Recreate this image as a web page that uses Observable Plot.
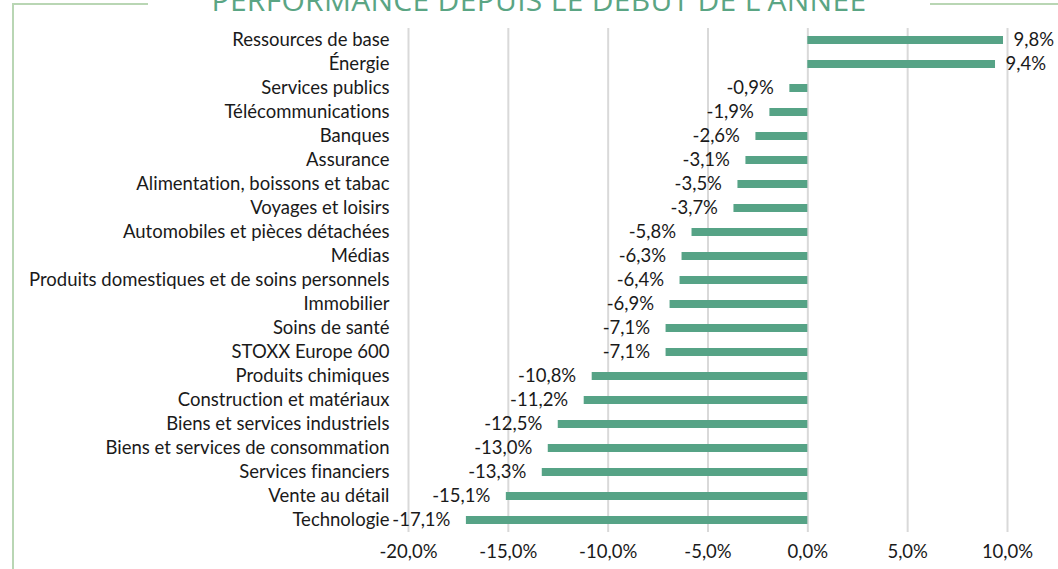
<!DOCTYPE html>
<html><head><meta charset="utf-8">
<script src="https://cdn.jsdelivr.net/npm/d3@7"></script>
<script src="https://cdn.jsdelivr.net/npm/@observablehq/plot@0.6"></script>
<style>
html,body{margin:0;padding:0;background:#fff;}
#wrap{position:relative;width:1058px;height:569px;overflow:hidden;}
#chart{position:absolute;left:0;top:0;}
#title{position:absolute;left:0;width:1078px;top:-15px;line-height:30px;text-align:center;font-family:"Open Sans",sans-serif;font-size:30px;color:#5aa584;letter-spacing:0.3px;white-space:nowrap;}
.bl{position:absolute;background:#b9d6b4;}
svg text{font-variant-ligatures:none;}
</style></head>
<body>
<div id="wrap">
  <div id="chart"></div>
  <div class="bl" style="left:12px;top:3px;width:2px;height:566px"></div>
  <div class="bl" style="left:12px;top:3px;width:136px;height:2px"></div>
  <div class="bl" style="left:930px;top:3px;width:128px;height:2px"></div>
  <div id="title">PERFORMANCE DEPUIS LE DÉBUT DE L'ANNÉE</div>
</div>
<script>
const categories = ["Ressources de base","Énergie","Services publics","Télécommunications","Banques","Assurance","Alimentation, boissons et tabac","Voyages et loisirs","Automobiles et pièces détachées","Médias","Produits domestiques et de soins personnels","Immobilier","Soins de santé","STOXX Europe 600","Produits chimiques","Construction et matériaux","Biens et services industriels","Biens et services de consommation","Services financiers","Vente au détail","Technologie"];
const values = [9.8,9.4,-0.9,-1.9,-2.6,-3.1,-3.5,-3.7,-5.8,-6.3,-6.4,-6.9,-7.1,-7.1,-10.8,-11.2,-12.5,-13.0,-13.3,-15.1,-17.1];
const xTicks = [-20,-15,-10,-5,0,5,10];

const fmt = v => v.toFixed(1).replace(".", ",") + "%";
const data = categories.map((c, i) => ({cat: c, val: values[i]}));

const chart = Plot.plot({
  width: 1058, height: 569,
  marginLeft: 408, marginRight: 51, marginTop: 28, marginBottom: 37,
  style: {fontFamily: "Lato, sans-serif", fontSize: "18.5px", color: "#1a1a1a", background: "transparent"},
  x: {domain: [-20, 10], ticks: xTicks, tickFormat: fmt, label: null},
  y: {domain: categories, paddingInner: 0.67, paddingOuter: 0.335, label: null},
  marks: [
    Plot.gridX(xTicks, {stroke: "#d9d9d9", strokeOpacity: 1, strokeWidth: 2}),
    Plot.axisX({ticks: xTicks, tickFormat: fmt, tickSize: 0, tickPadding: 12, fontSize: 18.5, label: null}),
    Plot.axisY({tickSize: 0, tickPadding: 19, fontSize: 18.5, label: null}),
    Plot.barX(data, {x: "val", y: "cat", fill: "#56a386"}),
    Plot.text(data.filter(d => d.val >= 0), {x: "val", y: "cat", text: d => fmt(d.val), textAnchor: "start", dx: 10, fontSize: 18.5, fill: "#1a1a1a"}),
    Plot.text(data.filter(d => d.val < 0), {x: "val", y: "cat", text: d => fmt(d.val), textAnchor: "end", dx: -16, fontSize: 18.5, fill: "#1a1a1a"})
  ]
});
document.getElementById("chart").appendChild(chart);
</script>
</body></html>
